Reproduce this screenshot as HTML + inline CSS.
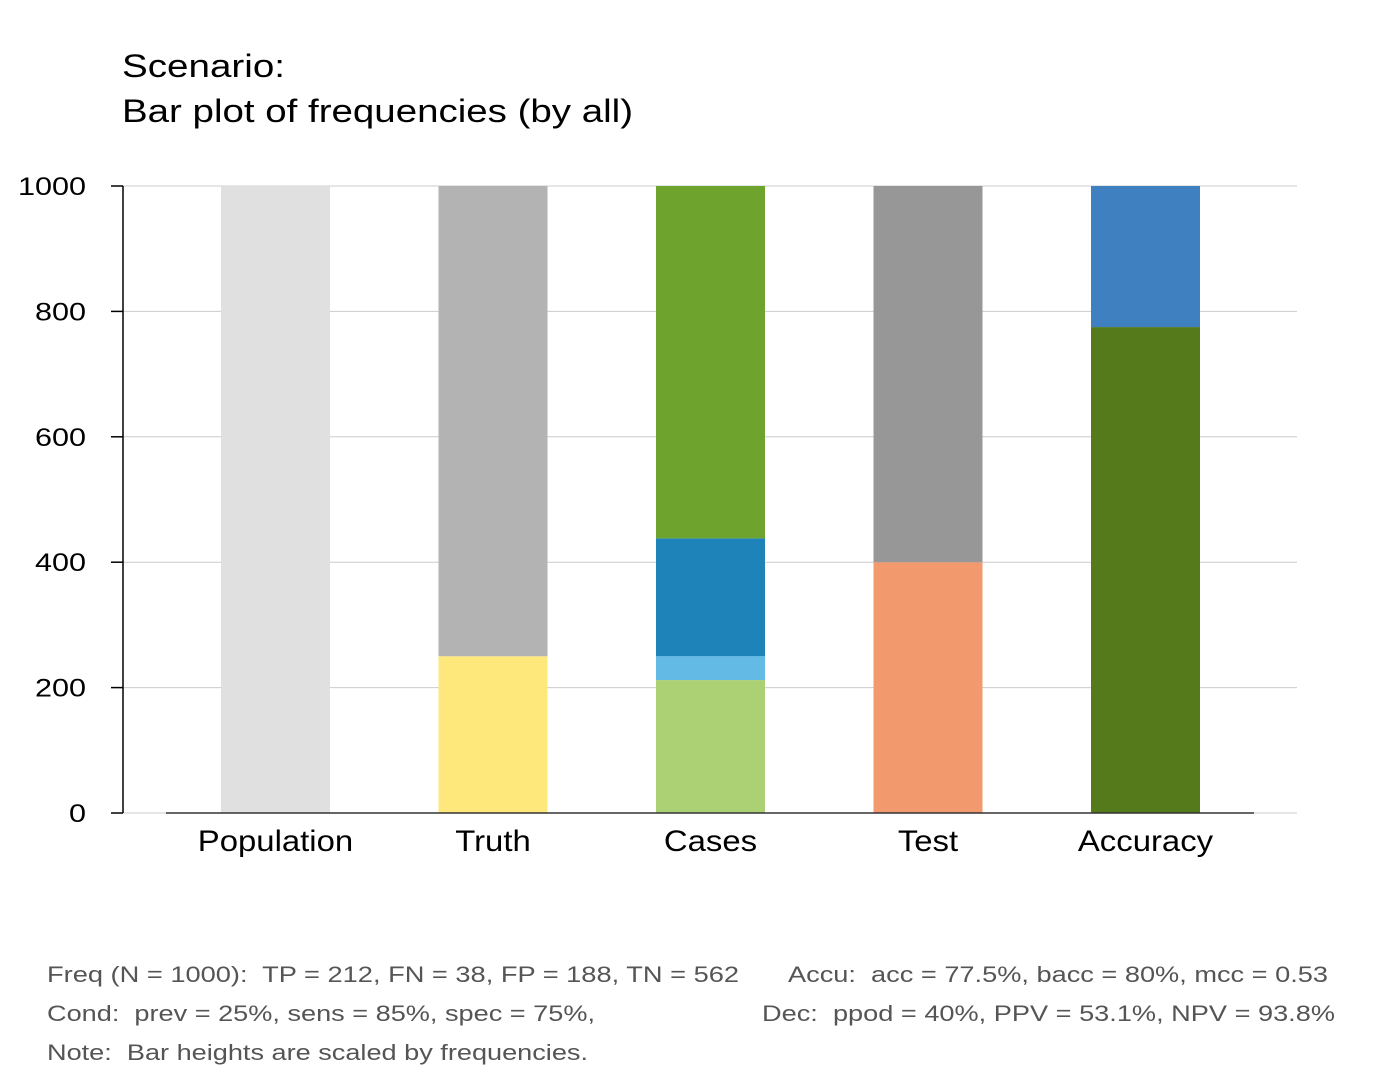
<!DOCTYPE html>
<html><head><meta charset="utf-8"><style>
body{margin:0;background:#fff;font-family:"Liberation Sans",Arial,sans-serif}
text{white-space:pre}
</style></head><body>
<svg width="1382" height="1076" xmlns="http://www.w3.org/2000/svg" font-family="Liberation Sans, Arial, sans-serif">
<text x="122" y="77" font-size="32" fill="#000" textLength="163" lengthAdjust="spacingAndGlyphs">Scenario:</text>
<text x="122" y="122" font-size="32" fill="#000" textLength="511" lengthAdjust="spacingAndGlyphs">Bar plot of frequencies (by all)</text>
<g id="grid"></g>
<g id="bars"></g>
<g id="axes"></g>
<g font-size="22" fill="#555">
<text x="47" y="982" textLength="692" lengthAdjust="spacingAndGlyphs">Freq (N = 1000):  TP = 212, FN = 38, FP = 188, TN = 562</text>
<text x="788" y="982" textLength="540" lengthAdjust="spacingAndGlyphs">Accu:  acc = 77.5%, bacc = 80%, mcc = 0.53</text>
<text x="47" y="1021" textLength="548" lengthAdjust="spacingAndGlyphs">Cond:  prev = 25%, sens = 85%, spec = 75%,</text>
<text x="762" y="1021" textLength="573" lengthAdjust="spacingAndGlyphs">Dec:  ppod = 40%, PPV = 53.1%, NPV = 93.8%</text>
<text x="47" y="1060" textLength="541" lengthAdjust="spacingAndGlyphs">Note:  Bar heights are scaled by frequencies.</text>
</g>
</svg>
<script>
const categories = ["Population","Truth","Cases","Test","Accuracy"];
const segPopulation = [1000];
const segTruth = [250, 750];
const segCases = [212, 38, 188, 562];
const segTest = [400, 600];
const segAccuracy = [775, 225];
const colPopulation = ["#e0e0e0"];
const colTruth = ["#fee87b","#b3b3b3"];
const colCases = ["#acd174","#63bbe5","#1e83b9","#6ea42e"];
const colTest = ["#f2996e","#979797"];
const colAccuracy = ["#557a1b","#3f80c1"];
const yTicks = [0,200,400,600,800,1000];
const segs = [segPopulation,segTruth,segCases,segTest,segAccuracy];
const cols = [colPopulation,colTruth,colCases,colTest,colAccuracy];
const NS="http://www.w3.org/2000/svg";
const y = v => 813 - v*0.627;
const xc = i => 275.5 + i*217.5;
const bw = 109;
const labelScale = 1.13;
function mk(tag, attrs, parent){const e=document.createElementNS(NS,tag);for(const k in attrs)e.setAttribute(k,attrs[k]);parent.appendChild(e);return e;}
const grid=document.getElementById('grid'), bars=document.getElementById('bars'), axes=document.getElementById('axes');
yTicks.forEach(t=>{
  const l=mk('line',{x1:123,x2:1297,y1:y(t),y2:y(t),stroke:'#cccccc','stroke-width':1},grid);
  
  
  const tk=mk('line',{x1:111,x2:123,y1:y(t),y2:y(t),stroke:'#000','stroke-width':1.5},axes);
  
  
  const tx=mk('text',{x:86,y:y(t)+9,'text-anchor':'end','font-size':25,fill:'#000'},axes);
  tx.textContent=t;
  tx.setAttribute('textLength', String(t).length*17);
  tx.setAttribute('lengthAdjust','spacingAndGlyphs');
  
  
});
segs.forEach((s,i)=>{
  let cum=0;
  s.forEach((v,j)=>{
    const r=mk('rect',{x:xc(i)-bw/2,y:y(cum+v),width:bw,height:y(cum)-y(cum+v),fill:cols[i][j]},bars);
    
    
    cum+=v;
  });
  const tx=mk('text',{x:xc(i),y:851,'text-anchor':'middle','font-size':30,fill:'#000'},axes);
  tx.textContent=categories[i];
  
  
  const w=tx.getComputedTextLength();
  tx.setAttribute('textLength', w*labelScale*0.97);
  tx.setAttribute('lengthAdjust','spacingAndGlyphs');
});
const ya=mk('line',{x1:123,x2:123,y1:y(1000),y2:y(0),stroke:'#000','stroke-width':1.5},axes);


const bl=mk('line',{x1:166,x2:1254,y1:y(0),y2:y(0),stroke:'#333','stroke-width':1.5},axes);


</script>
</body></html>
